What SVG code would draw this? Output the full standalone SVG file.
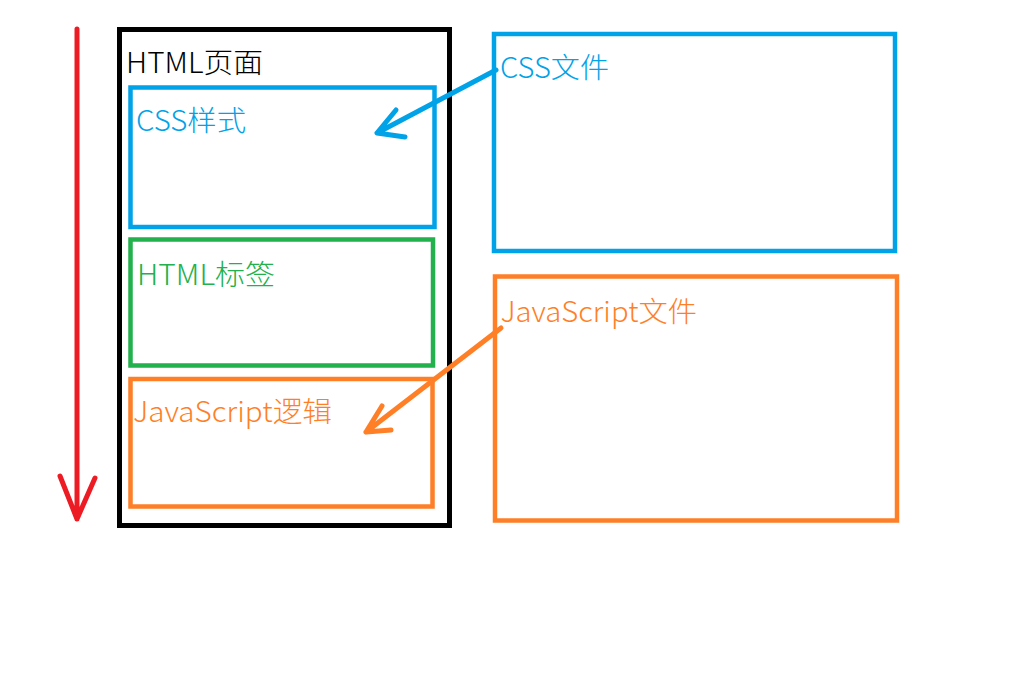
<svg xmlns="http://www.w3.org/2000/svg" width="1024" height="680" viewBox="0 0 1024 680">
<style>
.box{fill:none;stroke-width:4.5}
.blue{stroke:#00a2e8}
.green{stroke:#22b14c}
.orange{stroke:#ff7f27}
.black{stroke:#000000;stroke-width:5}
text{font-family:"Microsoft YaHei","Noto Sans CJK SC","Noto Sans",sans-serif;font-size:28px;font-weight:300}
.tb{fill:#00a2e8}
.tg{fill:#22b14c}
.to{fill:#ff7f27}
.tk{fill:#000000}
.con{fill:none;stroke-width:5;stroke-linecap:round;stroke-linejoin:round}
</style>
<rect width="1024" height="680" fill="#ffffff"/>
<g id="page">
<rect class="box black" x="119.5" y="29.5" width="330" height="496"/>
<text class="tk" x="126" y="73" textLength="137" lengthAdjust="spacingAndGlyphs">HTML页面</text>
</g>
<g id="css-style">
<rect class="box blue" x="130.5" y="87.5" width="304" height="139.5"/>
<text class="tb" x="136" y="131" textLength="110" lengthAdjust="spacingAndGlyphs">CSS样式</text>
</g>
<g id="html-tags">
<rect class="box green" x="130.5" y="239.5" width="302.5" height="126"/>
<text class="tg" x="137" y="285" textLength="138" lengthAdjust="spacingAndGlyphs">HTML标签</text>
</g>
<g id="js-logic">
<rect class="box orange" x="130.5" y="379" width="302" height="127.5"/>
<text class="to" x="133" y="422" textLength="199" lengthAdjust="spacingAndGlyphs">JavaScript逻辑</text>
</g>
<g id="css-file">
<rect class="box blue" x="494" y="34" width="401" height="217"/>
<text class="tb" x="500" y="78" textLength="109" lengthAdjust="spacingAndGlyphs">CSS文件</text>
</g>
<g id="js-file">
<rect class="box orange" x="495" y="276.5" width="402" height="244"/>
<text class="to" x="500.5" y="321.5" textLength="196.5" lengthAdjust="spacingAndGlyphs">JavaScript文件</text>
</g>
<g id="connectors">
<path class="con" stroke="#ed1c24" d="M77 29 L77 519 M60 476 L77 519 L95 478"/>
<path class="con" stroke="#00a2e8" d="M496 70 L377 133 M396 110 L377 133 L405 137"/>
<path class="con" stroke="#ff7f27" d="M501 328 L366 432 M382 406 L366 432 L391 430"/>
</g>
</svg>
